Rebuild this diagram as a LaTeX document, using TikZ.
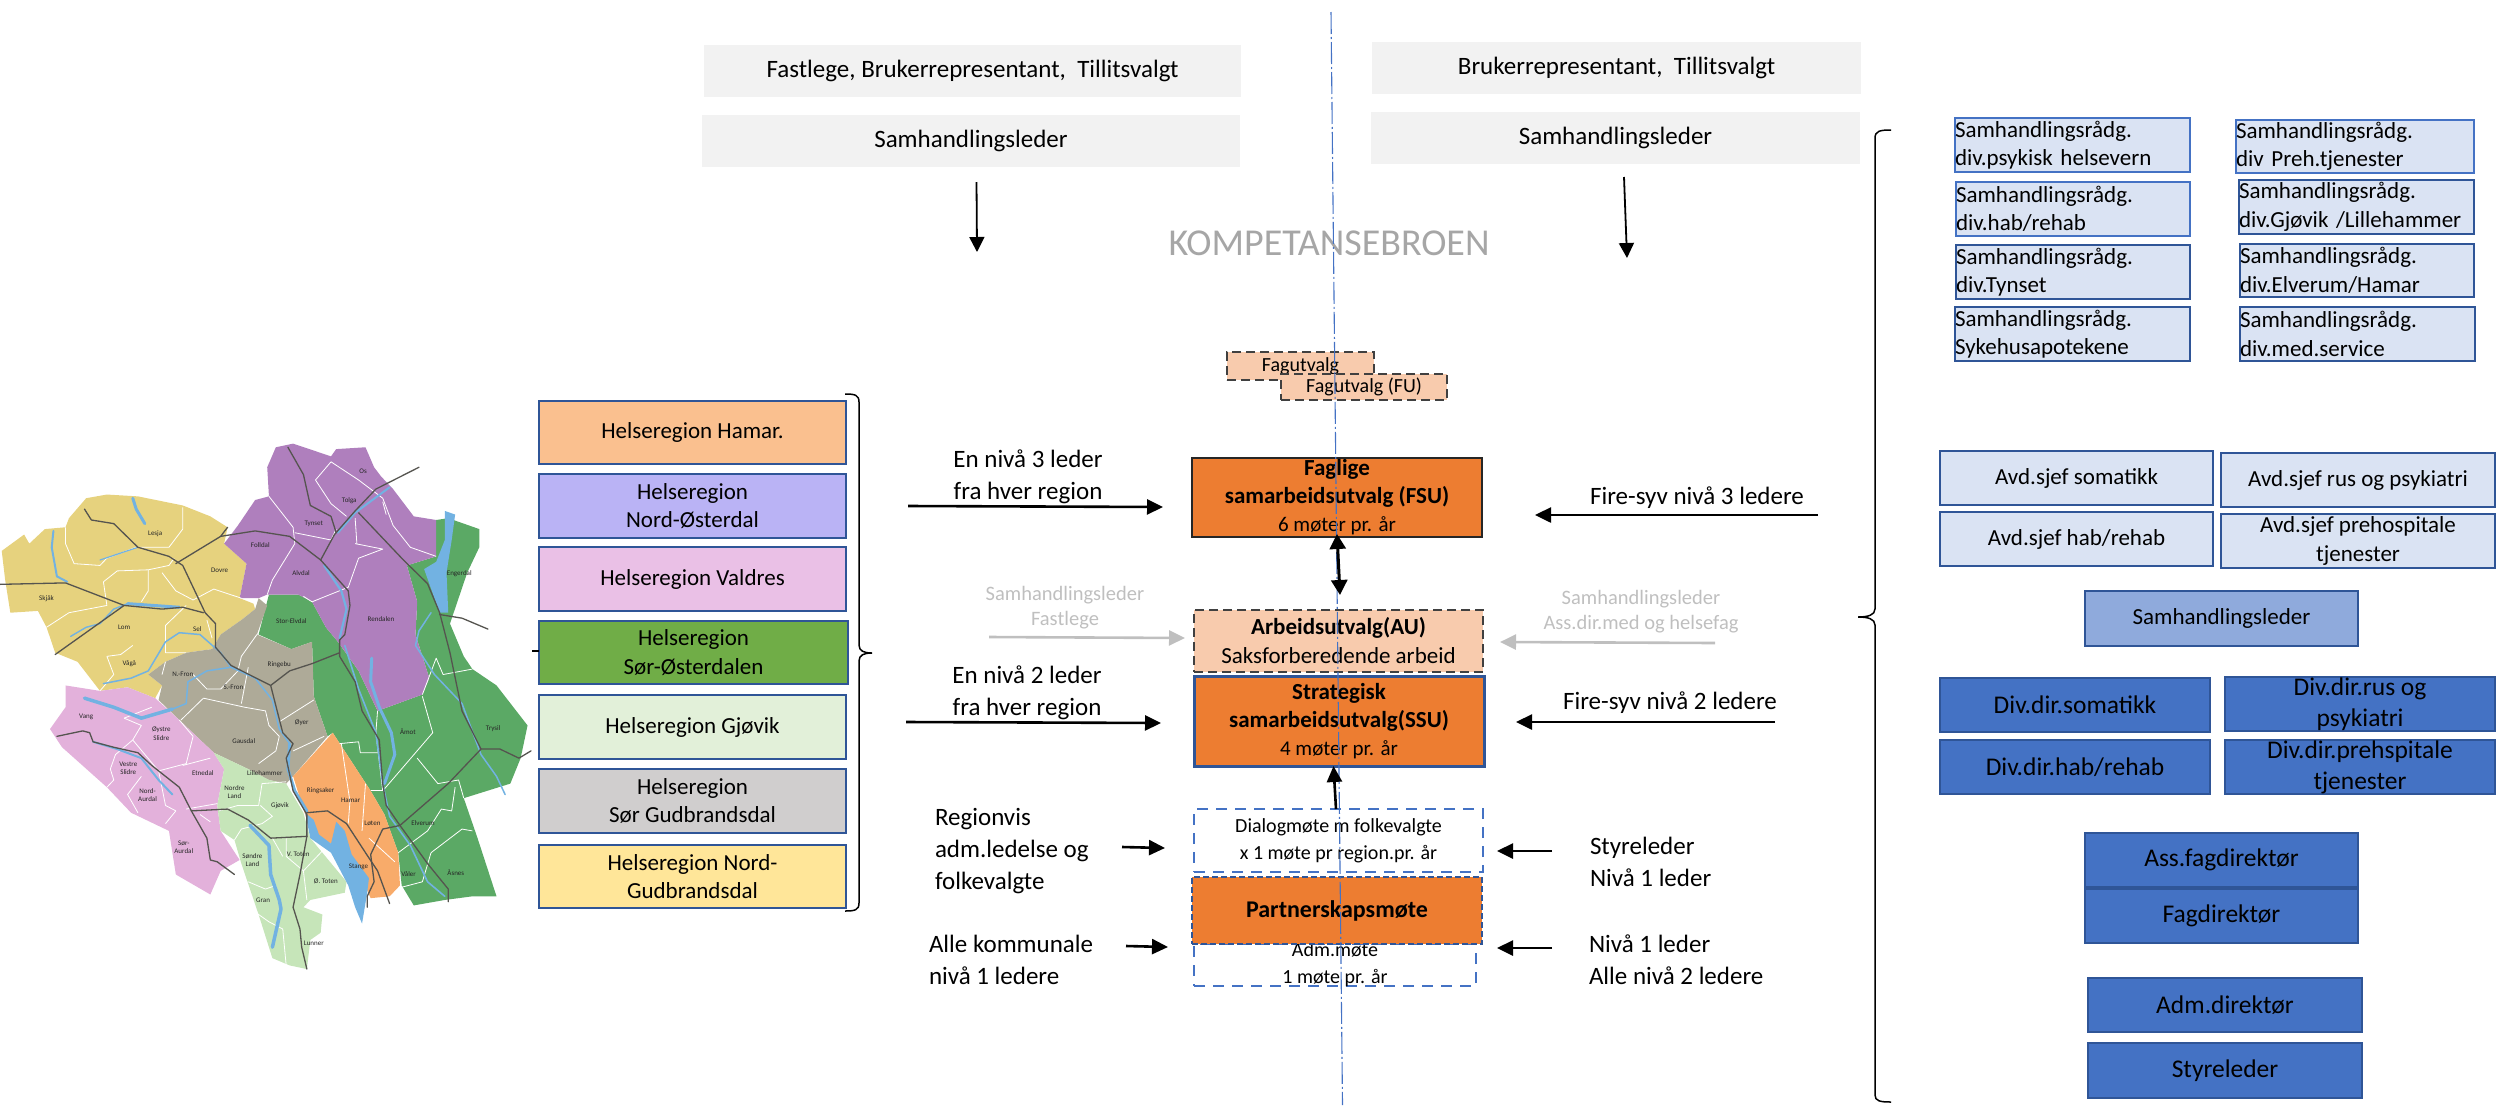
\documentclass[tikz,border=0pt]{standalone}
\usepackage{fontspec}
\setmainfont{Carlito}
\usetikzlibrary{arrows.meta}
\definecolor{blA}{HTML}{4472C4}
\definecolor{blB}{HTML}{2F5597}
\definecolor{lightbl}{HTML}{DAE3F3}
\definecolor{midbl}{HTML}{8FAADC}
\definecolor{orng}{HTML}{ED7D31}
\definecolor{pch}{HTML}{F8CBAD}
\definecolor{gtxt}{HTML}{BFBFBF}
\definecolor{mY}{HTML}{E6D27E}
\definecolor{mP}{HTML}{AF7FBD}
\definecolor{mG}{HTML}{5BA965}
\definecolor{mK}{HTML}{E3B1DB}
\definecolor{mT}{HTML}{AEAA98}
\definecolor{mO}{HTML}{F8AB6A}
\definecolor{mL}{HTML}{C6E5B9}
\definecolor{mW}{HTML}{72B2E2}
\definecolor{mR}{HTML}{55544F}
\tikzset{
  x=1pt,y=-1pt,
  fsz/.style 2 args={font=\fontsize{#1}{#2}\selectfont},
  base/.style={rectangle,inner xsep=0pt,inner ysep=-12pt,outer sep=0pt,align=center,fsz={23}{28.5},text=black},
  greybox/.style={base,fill=black!5,fsz={25}{29}},
  region/.style={base,draw=blB,line width=2.6pt},
  raad/.style={base,fill=lightbl,line width=2.6pt,align=left},
  raadA/.style={raad,draw=blA},
  raadB/.style={raad,draw=blB},
  avd/.style={base,fill=lightbl,draw=blB,line width=2.6pt,fsz={23}{29}},
  sleder/.style={base,fill=midbl,draw=blB,line width=2.2pt},
  dirbox/.style={base,fill=blA,draw=blB,line width=2.2pt,fsz={25.5}{31}},
  fagbox/.style={base,fill=pch,draw=black!75,line width=1.3pt,dash pattern=on 9pt off 5pt,fsz={20}{24}},
  hoved/.style={base,fill=orng,draw=black!85,line width=1.4pt,fsz={23}{28}},
  hovedB/.style={base,fill=orng,draw=blB,line width=3pt,fsz={23}{28}},
  bluedash/.style={base,draw=blA,line width=2.6pt,dash pattern=on 11pt off 8pt,fsz={20}{27}},
  partner/.style={base,fill=orng,draw=blB,line width=2.8pt,dash pattern=on 6pt off 3pt,fsz={24}{28}},
  plain/.style={inner sep=0pt,outer sep=0pt,align=center,fsz={25}{32}},
  plainl/.style={plain,align=left,anchor=west},
  faint/.style={plain,text=gtxt,fsz={20.5}{25}},
  arr/.style={-{Triangle[length=16pt,width=15pt]},line width=2.6pt,black},
  arrthin/.style={-{Triangle[length=15pt,width=15pt]},line width=1.8pt,black},
  arrgrey/.style={arr,gtxt},
  arrdbl/.style={{Triangle[length=15pt,width=16pt]}-{Triangle[length=15pt,width=16pt]},line width=3pt,black},
  midline/.style={blA,line width=1.1pt,dash pattern=on 22pt off 3pt on 2pt off 3pt},
  bracestyle/.style={black,line width=1.5pt},
  mroad/.style={mR,line width=1.3pt,line join=round,line cap=round},
  mwater/.style={mW,line join=round,line cap=round},
  mwhite/.style={white,line width=0.8pt,line join=round},
  mlabel/.style={inner sep=0pt,align=center,text=black!85,fsz={7}{8.5}},
}
\newcommand{\bx}[7]{\node[#1,minimum width={(#5-#3)*1pt},minimum height={(#6-#4)*1pt}] (#2) at ({(#3+#5)/2},{(#4+#6)/2}) {#7};}
\newcommand{\lbx}[7]{\pgfmathsetmacro{\tw}{#5-#3-40}\node[#1,text width=\tw pt,minimum height={(#6-#4)*1pt}] (#2) at ({(#3+#5)/2},{(#4+#6)/2}) {#7};}
\begin{document}
\begin{tikzpicture}
\useasboundingbox (0,0) rectangle (2496,1109);
% ---------- map ----------
\begin{scope}[shift={(0,420)},x=0.3448pt,y=-0.3636pt]
\fill[mY,line join=round] plot coordinates {(5,360)(70,315)(85,340)(130,300)(190,295)(200,270)(250,215)(310,205)(400,210)(530,235)(610,265)(660,295)(650,340)(715,395)(695,490)(735,505)(740,520)(700,550)(640,590)(615,630)(540,640)(480,665)(430,700)(470,730)(450,765)(370,735)(290,745)(225,665)(160,640)(135,570)(110,525)(30,530)(15,440)} -- cycle;
\fill[mG] plot coordinates {(1265,275)(1300,270)(1390,300)(1390,350)(1355,420)(1305,560)(1345,650)(1370,685)(1440,730)(1530,840)(1510,930)(1480,1000)(1345,1040)(1385,1150)(1440,1310)(1370,1310)(1290,1320)(1200,1335)(1165,1280)(1155,1190)(1115,1085)(1075,1020)(965,860)(950,870)(910,760)(905,610)(845,630)(750,590)(780,480)(865,480)(905,500)(945,570)(980,610)(1040,690)(1095,800)(1225,755)(1245,710)(1205,590)(1210,500)(1180,400)(1265,375)} -- cycle;
\fill[mP] plot coordinates {(800,75)(850,65)(960,100)(975,80)(1060,75)(1085,130)(1105,155)(1140,190)(1200,265)(1265,275)(1265,375)(1180,400)(1210,500)(1205,590)(1245,710)(1225,755)(1095,800)(1040,690)(980,610)(945,570)(905,500)(865,480)(775,480)(750,490)(695,490)(715,395)(650,340)(690,290)(740,220)(780,210)(775,130)} -- cycle;
\fill[mT] plot coordinates {(750,490)(775,510)(745,590)(845,630)(905,610)(910,760)(950,870)(850,980)(830,1000)(780,990)(720,960)(620,915)(520,825)(460,770)(470,730)(430,700)(480,665)(540,640)(615,630)(640,590)(700,550)(740,520)} -- cycle;
\fill[mK] plot coordinates {(190,730)(290,745)(370,735)(450,765)(520,825)(620,915)(650,960)(630,1060)(640,1130)(695,1210)(640,1240)(610,1305)(510,1250)(490,1130)(380,1080)(310,1010)(180,900)(145,850)(190,790)} -- cycle;
\fill[mL] plot coordinates {(620,915)(720,960)(780,990)(830,1000)(880,1080)(900,1150)(1005,1270)(1000,1300)(900,1320)(880,1340)(935,1360)(930,1410)(900,1430)(890,1510)(840,1500)(790,1480)(750,1360)(700,1220)(680,1155)(640,1130)(630,1060)(650,960)} -- cycle;
\fill[mO] plot coordinates {(965,860)(1075,1020)(1115,1085)(1155,1190)(1160,1280)(1130,1310)(1075,1315)(1020,1200)(900,1130)(880,1070)(850,980)} -- cycle;
% municipal borders
\foreach \pth in {
 {(190,295)(190,340)(215,395)(290,400)(310,380)(395,350)(490,350)(530,300)(530,240)},
 {(300,445)(340,415)(430,412)(490,400)(505,380)},
 {(135,570)(200,530)(310,510)(300,445)},
 {(430,412)(430,470)(410,500)},
 {(470,420)(510,470)(560,495)(620,465)(700,490)},
 {(540,510)(480,565)(480,640)(540,640)},
 {(310,650)(350,645)(385,620)},
 {(310,650)(330,700)(290,745)},
 {(600,550)(615,600)},
 {(960,115)(915,165)(960,230)(1005,265)},
 {(960,115)(1040,165)(1110,215)(1140,290)(1190,350)(1265,375)},
 {(780,210)(850,295)(855,340)(790,440)(775,480)},
 {(855,310)(960,330)(975,300)},
 {(1030,340)(1110,355)(1040,380)(1010,460)(905,500)(880,485)},
 {(1030,270)(1035,340)},
 {(1110,225)(1120,260)},
 {(1095,800)(1090,860)(1110,1020)},
 {(1225,760)(1255,860)(1110,1020)},
 {(1225,755)(1265,655)(1285,700)(1370,685)},
 {(985,890)(1040,885)(1045,915)(1100,915)},
 {(1210,930)(1270,1000)(1330,990)(1345,1040)},
 {(1075,1020)(1110,1020)},
 {(1320,1010)(1310,1075)(1280,1070)(1240,1130)(1155,1190)},
 {(1250,1190)(1340,1125)(1370,1130)},
 {(1250,1190)(1225,1270)(1165,1285)},
 {(745,590)(700,650)(690,690)(640,740)(600,740)(560,700)},
 {(720,680)(700,780)},
 {(525,825)(590,765)(710,790)(770,800)(780,840)(810,870)(800,910)(750,945)},
 {(810,830)(910,770)},
 {(850,910)(940,870)},
 {(480,665)(470,700)},
 {(360,820)(410,840)(385,880)(335,920)(320,960)(330,990)(310,1010)},
 {(360,820)(440,790)},
 {(385,880)(460,965)(540,945)(560,870)(520,825)},
 {(410,980)(370,1030)(400,1080)},
 {(460,965)(480,1060)(510,1075)(480,1110)},
 {(530,950)(610,930)},
 {(540,1070)(630,1055)},
 {(580,1085)(610,1105)},
 {(635,1075)(690,1060)(750,1060)(760,1000)(830,995)},
 {(755,1060)(790,1090)(760,1110)(700,1125)(680,1155)},
 {(720,1270)(770,1290)(800,1280)},
 {(735,1350)(780,1380)(820,1400)(830,1500)},
 {(830,1150)(830,1200)(880,1240)(890,1320)},
 {(880,1240)(950,1170)},
 {(790,1150)(820,1200)},
 {(990,890)(1015,1050)(1010,1110)},
 {(1060,1000)(1050,1130)},
 {(1070,1150)(1145,1215)}}
 {\draw[mwhite] plot coordinates \pth;}
% water
\fill[mW,line join=round] plot coordinates {(885,1080)(910,1100)(925,1140)(960,1165)(975,1105)(1000,1130)(1020,1195)(1070,1260)(1065,1300)(1050,1385)(1030,1340)(1010,1280)(960,1190)(900,1150)} -- cycle;
\fill[mW,line join=round] plot coordinates {(1290,250)(1320,260)(1310,330)(1295,420)(1300,530)(1275,530)(1230,410)(1265,390)(1290,330)} -- cycle;
\draw[mwater,line width=3pt] plot coordinates {(385,215)(395,245)(420,285)};
\draw[mwater,line width=2pt] plot coordinates {(155,305)(150,350)(165,430)(195,445)};
\draw[mwater,line width=1.2pt] plot coordinates {(290,385)(400,350)};
\draw[mwater,line width=1.4pt] plot coordinates {(205,595)(250,570)(290,560)(330,520)(370,505)};
\draw[mwater,line width=3pt] plot coordinates {(370,505)(520,515)};
\draw[mwater,line width=1.5pt] plot coordinates {(300,725)(380,710)(430,690)(480,610)(520,585)(580,590)(640,640)(670,680)(740,710)(790,770)(810,850)(840,890)};
\draw[mwater,line width=3pt] plot coordinates {(840,890)(835,960)(855,1020)(890,1075)};
\draw[mwater,line width=3.5pt] plot coordinates {(245,765)(330,790)(410,820)(500,795)};
\draw[mwater,line width=1.5pt] plot coordinates {(500,795)(540,780)(545,720)(600,690)(670,680)};
\draw[mwater,line width=2pt] plot coordinates {(270,885)(340,905)(410,930)(460,990)(500,1030)};
\draw[mwater,line width=2pt] plot coordinates {(1130,185)(1030,255)(980,310)};
\draw[mwater,line width=2.2pt] plot coordinates {(940,400)(990,470)(1005,520)(985,600)};
\draw[mwater,line width=1.6pt] plot coordinates {(1000,620)(1040,740)(1090,860)(1110,1000)(1130,1090)(1190,1170)(1240,1270)(1290,1310)};
\draw[mwater,line width=3pt] plot coordinates {(1078,655)(1075,720)(1100,790)(1135,860)(1145,920)(1115,1000)};
\draw[mwater,line width=1.5pt] plot coordinates {(1250,530)(1215,580)(1205,620)(1260,700)(1340,780)(1395,920)(1440,980)(1465,1030)};
\draw[mwater,line width=3.5pt] plot coordinates {(725,1115)(780,1170)(785,1250)(810,1320)(815,1345)(790,1450)};
% roads
\foreach \pth in {
 {(245,245)(265,275)(330,285)(400,350)(490,375)(530,400)(595,530)(625,560)(625,625)(670,675)(785,730)(820,860)(850,890)(830,930)(850,1020)(890,1085)(890,1145)},
 {(0,452)(190,448)(360,510)(470,520)(530,515)(590,530)},
 {(160,645)(360,510)},
 {(510,395)(640,320)(660,295)},
 {(640,320)(740,305)(840,320)(930,385)(1010,470)(1015,510)(1000,590)(985,605)(985,650)(1030,720)(1050,800)(1100,880)(1110,1000)(1120,1060)(1160,1115)(1240,1220)(1300,1290)(1300,1325)},
 {(1215,130)(1090,190)(1030,250)(970,315)(930,385)},
 {(835,75)(880,150)(900,235)(960,265)(975,310)},
 {(1040,255)(1170,385)(1240,450)(1275,530)(1305,640)(1340,800)(1395,905)(1450,905)(1505,930)(1540,910)},
 {(1275,535)(1340,545)(1415,575)},
 {(785,730)(840,690)(905,670)(985,640)},
 {(1395,905)(1300,1000)(1160,1115)(1110,1125)(1075,1195)(1085,1270)(1065,1310)(1065,1340)},
 {(890,1080)(950,1075)(1005,1110)(1060,1190)(1095,1240)(1130,1330)},
 {(890,1145)(785,1150)(720,1100)(660,1070)(555,1075)(520,1010)(440,950)(400,915)(330,900)(270,885)(260,860)(240,855)(165,870)},
 {(555,1075)(570,1100)(600,1150)(610,1210)(630,1215)(680,1250)},
 {(890,1145)(870,1250)(850,1340)(870,1400)(875,1450)(890,1510)}}
 {\draw[mroad] plot coordinates \pth;}
\foreach \lx/\ly/\lt [count=\li] in {
 1053/140/Os,1013/222/Tolga,910/285/Tynset,755/345/Folldal,873/421/Alvdal,1105/547/Rendalen,1332/422/Engerdal,1430/848/Trysil,1183/856/Åmot,845/552/Stor-Elvdal,810/672/Ringebu,875/832/Øyer,707/884/Gausdal,677/736/S.-Fron,530/700/N.-Fron,572/575/Sel,375/670/Vågå,360/570/Lom,135/490/Skjåk,450/313/Lesja,637/413/Dovre,250/816/Vang,468/862/{Øystre\\Slidre},372/958/{Vestre\\Slidre},428/1032/{Nord-\\Aurdal},588/972/Etnedal,533/1175/{Sør-\\Aurdal},680/1023/{Nordre\\Land},732/1211/{Søndre\\Land},763/1320/Gran,910/1440/Lunner,812/1060/Gjøvik,865/1193/V. Toten,945/1270/Ø. Toten,768/970/Lillehammer,930/1020/Ringsaker,1017/1046/Hamar,1080/1108/Løten,1040/1230/Stange,1185/1248/Våler,1227/1108/Elverum,1322/1244/Åsnes}
 {\node[mlabel] (ml\li) at (\lx,\ly) {\lt};}
\end{scope}
% ---------- top boxes ----------
\bx{greybox}{gb1}{704}{45}{1241}{97}{Fastlege, Brukerrepresentant,\ \ Tillitsvalgt}
\bx{greybox}{gb2}{702}{115}{1240}{167}{Samhandlingsleder}
\bx{greybox}{gb3}{1372}{42}{1861}{94}{Brukerrepresentant,\ \ Tillitsvalgt}
\bx{greybox}{gb4}{1371}{112}{1860}{164}{Samhandlingsleder}
\node[plain,text=black!35,fsz={38}{40}] (komp) at (1329,243) {KOMPETANSEBROEN};
% ---------- regions ----------
\bx{region,fill=mO!75!white}{rg1}{539}{401}{846}{464}{Helseregion Hamar.}
\bx{region,fill={rgb,255:red,186;green,179;blue,245}}{rg2}{539}{474}{846}{538}{Helseregion\\Nord-Østerdal}
\bx{region,fill={rgb,255:red,234;green,192;blue,230}}{rg3}{539}{547}{846}{611}{Helseregion Valdres}
\bx{region,fill={rgb,255:red,112;green,173;blue,71}}{rg4}{539}{621}{848}{684}{Helseregion\\Sør-Østerdalen}
\bx{region,fill={rgb,255:red,226;green,240;blue,217}}{rg5}{539}{695}{846}{759}{Helseregion Gjøvik}
\bx{region,fill={rgb,255:red,208;green,206;blue,206}}{rg6}{539}{769}{846}{833}{Helseregion\\Sør Gudbrandsdal}
\bx{region,fill={rgb,255:red,255;green,230;blue,153}}{rg7}{539}{845}{846}{908}{Helseregion Nord-\\Gudbrandsdal}
\draw[bracestyle,line width=2pt] (532,651) -- (539,651);
\draw[bracestyle] (845,394) .. controls (855,394) and (859,395) .. (859,402) -- (859,645) .. controls (859,651) and (864,653) .. (872,653) .. controls (864,653) and (859,655) .. (859,661) -- (859,903) .. controls (859,910) and (855,911) .. (845,911);
% ---------- centre column ----------
\bx{fagbox}{fag1}{1227}{352}{1374}{380}{Fagutvalg}
\bx{fagbox}{fag2}{1281}{374}{1447}{400}{Fagutvalg (FU)}
\bx{hoved}{fsu}{1192}{458}{1482}{537}{\textbf{Faglige}\\\textbf{samarbeidsutvalg (FSU)}\\{\fontsize{21}{28}\selectfont 6 møter pr. år}}
\bx{base,fill=pch,draw=black!75,line width=1.6pt,dash pattern=on 9pt off 5pt,fsz={23}{29}}{au}{1194}{610}{1483}{672}{\textbf{Arbeidsutvalg(AU)}\\Saksforberedende arbeid}
\bx{hovedB}{ssu}{1194}{676}{1484}{766}{\textbf{Strategisk}\\\textbf{samarbeidsutvalg(SSU)}\\{\fontsize{21}{28}\selectfont 4 møter pr. år}}
\bx{bluedash}{dial}{1194}{809}{1483}{872}{Dialogmøte m folkevalgte\\x 1 møte pr region.pr. år}
\bx{bluedash}{adm}{1194}{944}{1476}{986}{Adm.møte\\1 møte pr. år}
\bx{partner}{part}{1192}{877}{1482}{944}{\textbf{Partnerskapsmøte}}
% ---------- right column ----------
\draw[bracestyle] (1891,130) .. controls (1880,130) and (1875,131) .. (1875,138) -- (1875,609) .. controls (1875,615) and (1868,617) .. (1858,617) .. controls (1868,617) and (1875,619) .. (1875,625) -- (1875,1095) .. controls (1875,1101) and (1880,1102) .. (1891,1102);
\lbx{raadA}{r1}{1935}{118}{2210}{172}{Samhandlingsrådg.\\div.psykisk helsevern}
\lbx{raadA}{r2}{2216}{120}{2494}{173}{Samhandlingsrådg.\\div Preh.tjenester}
\lbx{raadA}{r3}{1936}{182}{2210}{236}{Samhandlingsrådg.\\div.hab/rehab}
\lbx{raadB}{r4}{2219}{180}{2494}{234}{Samhandlingsrådg.\\div.Gjøvik /Lillehammer}
\lbx{raadB}{r5}{1936}{245}{2210}{299}{Samhandlingsrådg.\\div.Tynset}
\lbx{raadB}{r6}{2220}{244}{2494}{297}{Samhandlingsrådg.\\div.Elverum/Hamar}
\lbx{raadB}{r7}{1935}{307}{2210}{361}{Samhandlingsrådg.\\Sykehusapotekene}
\lbx{raadB}{r8}{2220}{307}{2495}{361}{Samhandlingsrådg.\\div.med.service}
\bx{avd}{a1}{1940}{451}{2213}{505}{Avd.sjef somatikk}
\bx{avd}{a2}{2221}{453}{2495}{507}{Avd.sjef rus og psykiatri}
\bx{avd}{a3}{1940}{512}{2213}{566}{Avd.sjef hab/rehab}
\bx{avd}{a4}{2221}{514}{2495}{568}{Avd.sjef prehospitale\\tjenester}
\bx{sleder}{sl}{2085}{591}{2358}{646}{Samhandlingsleder}
\bx{dirbox}{d1}{1940}{678}{2210}{732}{Div.dir.somatikk}
\bx{dirbox}{d2}{2225}{677}{2495}{731}{Div.dir.rus og\\psykiatri}
\bx{dirbox}{d3}{1940}{740}{2210}{794}{Div.dir.hab/rehab}
\bx{dirbox}{d4}{2225}{740}{2495}{794}{Div.dir.prehspitale\\tjenester}
\bx{dirbox}{d5}{2085}{833}{2358}{887}{Ass.fagdirektør}
\bx{dirbox}{d6}{2085}{889}{2358}{943}{Fagdirektør}
\bx{dirbox}{d7}{2088}{978}{2362}{1032}{Adm.direktør}
\bx{dirbox}{d8}{2088}{1043}{2362}{1098}{Styreleder}
% ---------- captions ----------
\node[plain] (c1) at (1028,477) {En nivå 3 leder\\fra hver region};
\node[plain] (c2) at (1027,692.5) {En nivå 2 leder\\fra hver region};
\node[faint] (c3) at (1065,608) {Samhandlingsleder\\Fastlege};
\node[faint] (c4) at (1641,611.5) {Samhandlingsleder\\Ass.dir.med og helsefag};
\node[plain] (c5) at (1697,498) {Fire-syv nivå 3 ledere};
\node[plain] (c6) at (1670,703) {Fire-syv nivå 2 ledere};
\node[plainl] (c7) at (935,851) {Regionvis\\adm.ledelse og\\folkevalgte};
\node[plainl] (c8) at (929,960) {Alle kommunale\\nivå 1 ledere};
\node[plainl] (c9) at (1590,862) {Styreleder\\Nivå 1 leder};
\node[plainl] (c10) at (1589,960) {Nivå 1 leder\\Alle nivå 2 ledere};
% ---------- centre line and arrows ----------
\coordinate (cltop) at (1331,12);
\coordinate (clbot) at (1342.5,1105);
\draw[midline] (cltop) -- (clbot);
\coordinate (ta1) at (976.5,182); \coordinate (tb1) at (977,252);
\coordinate (ta2) at (1624,177); \coordinate (tb2) at (1627,258);
\draw[arrthin] (ta1) -- (tb1);
\draw[arrthin] (ta2) -- (tb2);
\coordinate (la1) at (908,506); \coordinate (lb1) at (1163,507);
\coordinate (la2) at (989,637); \coordinate (lb2) at (1185,638);
\coordinate (la3) at (906,722); \coordinate (lb3) at (1161,723);
\coordinate (la4) at (1122,847); \coordinate (lb4) at (1165,848);
\coordinate (la5) at (1126,946); \coordinate (lb5) at (1168,947);
\coordinate (ra1) at (1818,515); \coordinate (rb1) at (1535,515);
\coordinate (ra2) at (1715,643); \coordinate (rb2) at (1500,642);
\coordinate (ra3) at (1775,722); \coordinate (rb3) at (1516,722);
\coordinate (ra4) at (1552,851); \coordinate (rb4) at (1497,851);
\coordinate (ra5) at (1552,948); \coordinate (rb5) at (1497,948);
\draw[arr] (la1) -- (lb1);
\draw[arrgrey] (la2) -- (lb2);
\draw[arr] (la3) -- (lb3);
\draw[arr] (la4) -- (lb4);
\draw[arr] (la5) -- (lb5);
\draw[arr] (ra1) -- (rb1);
\draw[arrgrey] (ra2) -- (rb2);
\draw[arr] (ra3) -- (rb3);
\draw[arr] (ra4) -- (rb4);
\draw[arr] (ra5) -- (rb5);
\coordinate (dblend) at (1340,595);
\draw[arrdbl] ([yshift=3pt]fsu.south) -- (dblend);
\draw[arr] ([xshift=-2.5pt]dial.north) -- ([xshift=-5.5pt]ssu.south);
\end{tikzpicture}
\end{document}
